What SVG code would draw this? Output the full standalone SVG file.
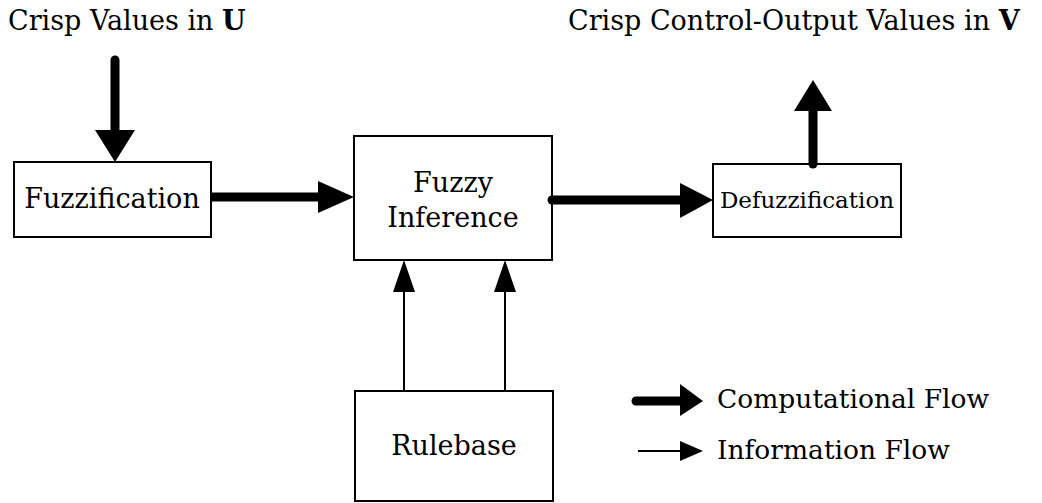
<svg xmlns="http://www.w3.org/2000/svg" width="1042" height="503" viewBox="0 0 1042 503">
<style>
.box{fill:#fff;stroke:#000;stroke-width:2}
.t{font-family:"DejaVu Serif","Liberation Serif",serif;font-size:27px;fill:#000}
.small{font-size:23px}
.leg{font-size:26.5px}
.thick{stroke:#000;stroke-width:9;fill:none}
.thin{stroke:#000;stroke-width:2;fill:none}
.head{fill:#000}
</style>
<rect width="1042" height="503" fill="#fff"/>
<text class="t" x="8" y="30">Crisp Values in <tspan font-weight="bold">U</tspan></text>
<text class="t" x="568" y="30">Crisp Control-Output Values in <tspan font-weight="bold">V</tspan></text>
<g id="fuzzification">
<rect class="box" x="14" y="162" width="197" height="75"/>
<text class="t" x="112" y="208" text-anchor="middle">Fuzzification</text>
</g>
<g id="fuzzy-inference">
<rect class="box" x="354" y="136" width="198" height="124"/>
<text class="t" x="453" y="192" text-anchor="middle">Fuzzy</text>
<text class="t" x="453" y="227" text-anchor="middle">Inference</text>
</g>
<g id="defuzzification">
<rect class="box" x="713" y="164" width="188" height="73"/>
<text class="t small" x="807" y="208" text-anchor="middle">Defuzzification</text>
</g>
<g id="rulebase">
<rect class="box" x="355" y="391" width="198" height="110"/>
<text class="t" x="454" y="455" text-anchor="middle">Rulebase</text>
</g>
<g id="connectors">
<line class="thick" x1="115" y1="60" x2="115" y2="132" stroke-linecap="round"/>
<polygon class="head" points="95,130 135,130 115,162"/>
<line class="thick" x1="211" y1="197" x2="322" y2="197"/>
<polygon class="head" points="318,181 318,213 354,197"/>
<line class="thick" x1="552" y1="200" x2="682" y2="200" stroke-linecap="round"/>
<polygon class="head" points="680,183 680,218 713,200"/>
<line class="thick" x1="813" y1="164" x2="813" y2="108" stroke-linecap="round"/>
<polygon class="head" points="794,111 832,111 813,80"/>
<line class="thin" x1="404" y1="391" x2="404" y2="290"/>
<polygon class="head" points="393,292 415,292 404,260"/>
<line class="thin" x1="505" y1="391" x2="505" y2="290"/>
<polygon class="head" points="494,292 516,292 505,260"/>
</g>
<g id="legend">
<line class="thick" x1="636" y1="401" x2="684" y2="401" stroke-linecap="round"/>
<polygon class="head" points="680,384 680,416 703,401"/>
<text class="t leg" x="717" y="408">Computational Flow</text>
<line class="thin" x1="638" y1="451" x2="684" y2="451"/>
<polygon class="head" points="680,441 680,461 703,451"/>
<text class="t leg" x="717" y="459">Information Flow</text>
</g>
</svg>
